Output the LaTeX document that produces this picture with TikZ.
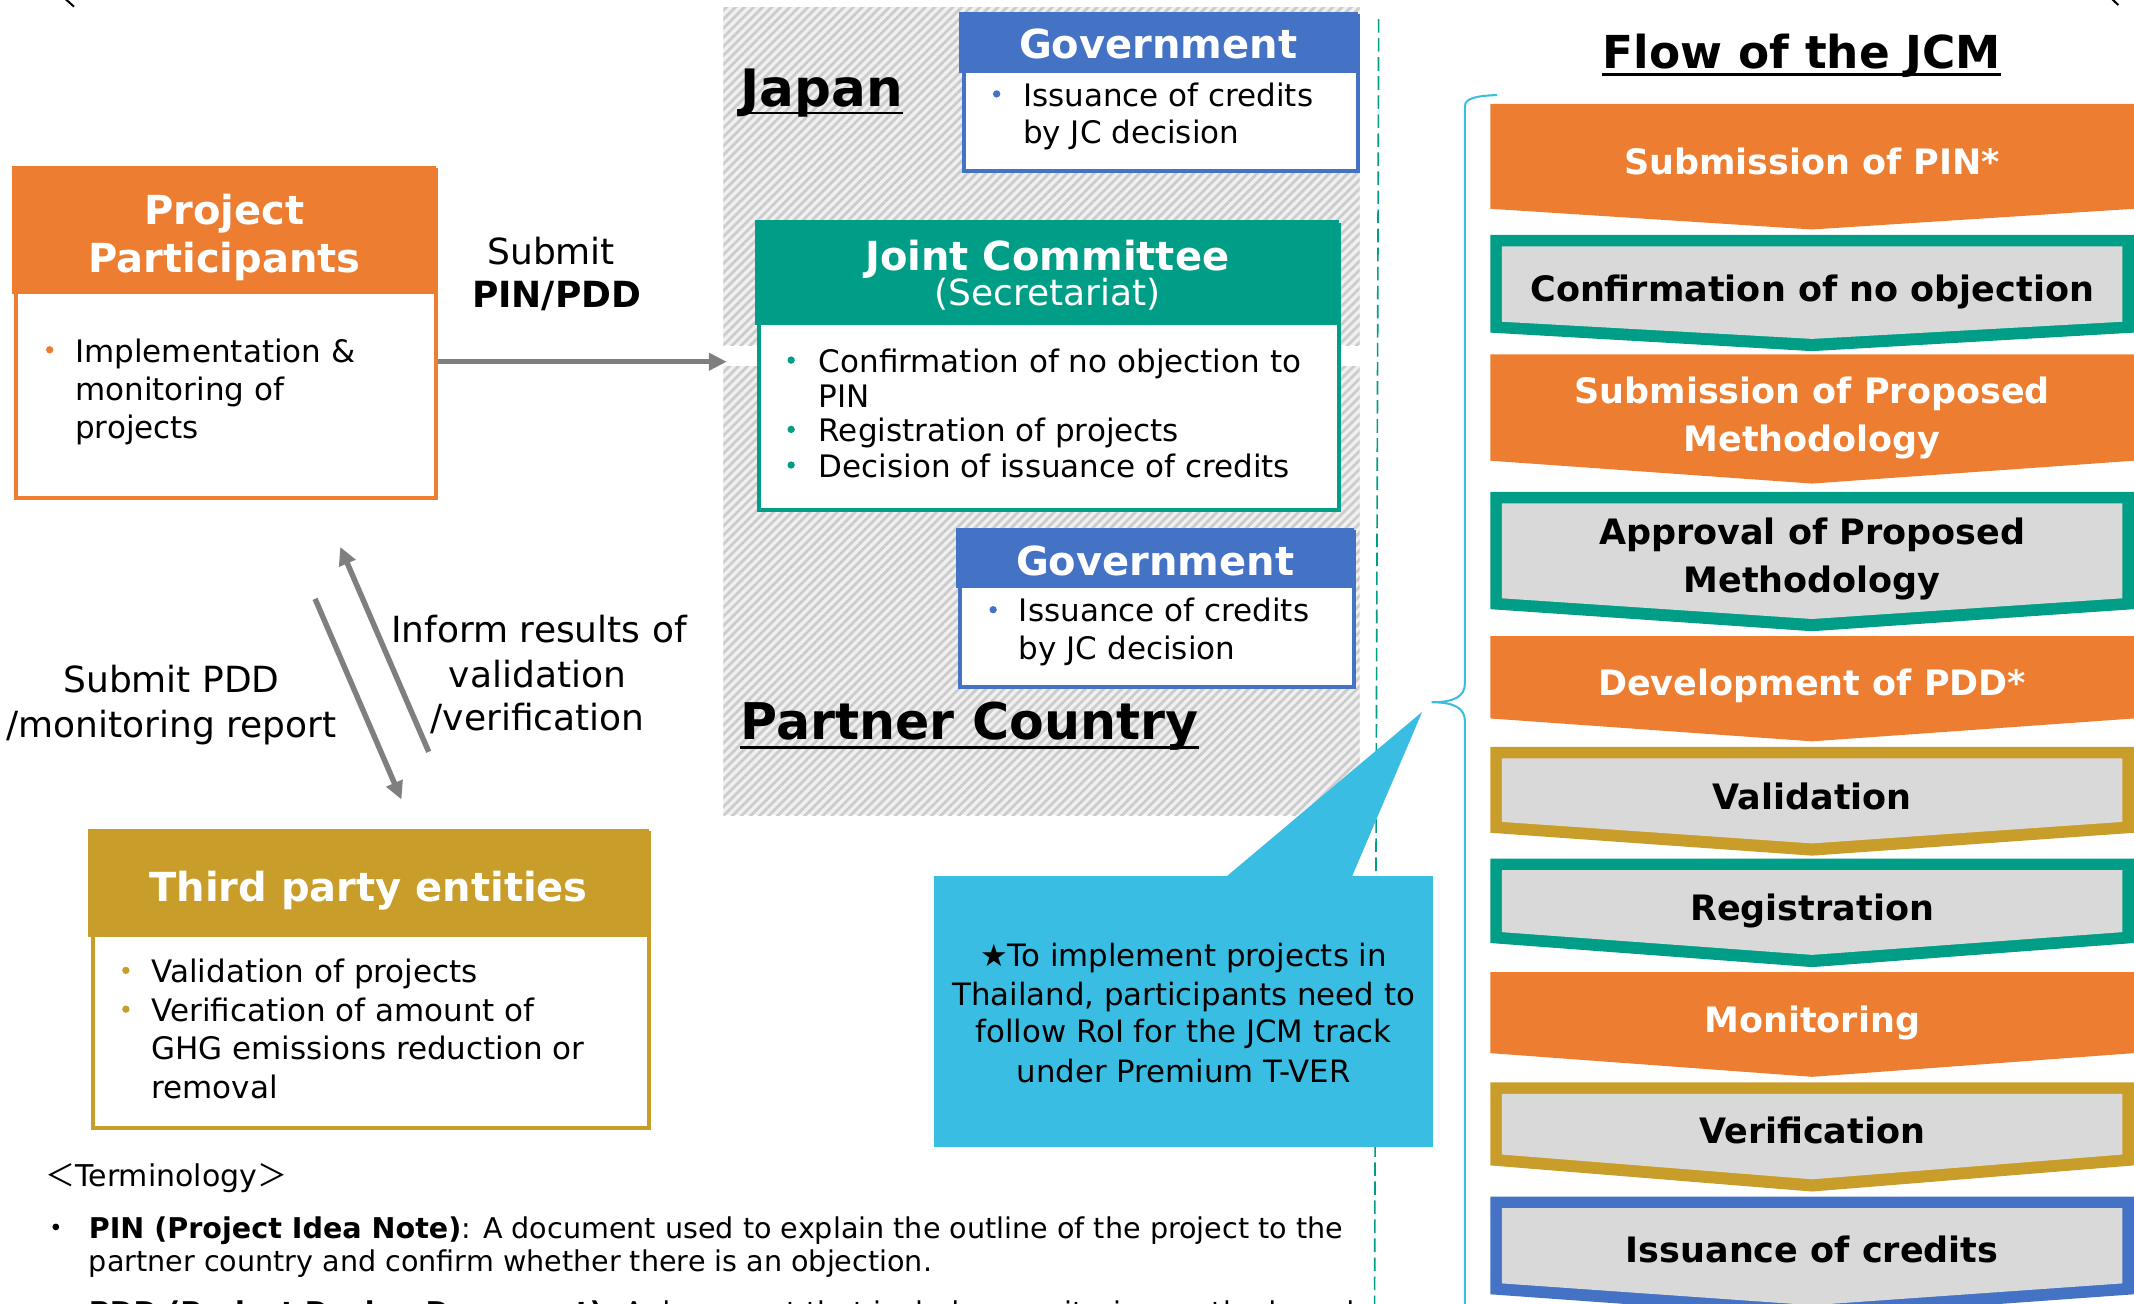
\documentclass[tikz,border=0pt]{standalone}
\usepackage{fontspec}
\setmainfont{DejaVu Sans}
\newfontfamily\cjk{Noto Sans CJK JP}
\usetikzlibrary{patterns.meta,arrows.meta,calc}
\definecolor{jorange}{HTML}{ED7D31}
\definecolor{jteal}{HTML}{009E87}
\definecolor{jblue}{HTML}{4472C4}
\definecolor{jgold}{HTML}{C99D2A}
\definecolor{jcyan}{HTML}{3ABDE2}
\definecolor{jgray}{HTML}{D9D9D9}
\definecolor{jarrow}{HTML}{7F7F7F}
\newdimen\px \px=0.6805pt
\newcommand\fs[1]{\fontsize{#1}{#1}\selectfont}
\begin{document}
\begin{tikzpicture}[x=0.6805pt,y=-0.6805pt,
  every node/.style={inner sep=0pt},
  lt/.style={anchor=base west, font=\fs{15.5pt}},
  hdr/.style={anchor=base, text=white, font=\fs{20pt}\bfseries},
  chevtxt/.style={anchor=base, font=\fs{17.5pt}\bfseries},
  lbl/.style={anchor=base, font=\fs{18pt}},
  big/.style={anchor=base west, font=\fs{25.8pt}\bfseries},
  calltxt/.style={anchor=base, font=\fs{15.4pt}},
  termtxt/.style={anchor=base west, font=\fs{14.3pt}},
  arr/.style={draw=jarrow, line width=4\px, -{Triangle[length=9pt,width=8.5pt]}},
  boxnode/.style={draw, line width=3\px, fill=white, rectangle, anchor=north west},
  hatchbg/.style={fill=black!6, postaction={pattern={Lines[angle=45,distance=3.2pt,line width=1.4pt]}, pattern color=black!20}},
  orangechev/.style={fill=jorange},
  graychev/.style={fill=jgray},
  bul/.style={fill=#1},
  uline/.style={line width=2\px},
]
\useasboundingbox (0,0) rectangle (1568,958);
\clip (0,0) rectangle (1568,958);

% corner marks
\draw[line width=1.5\px] (47.8,-1) -- (54.4,4.9);
\draw[line width=1.5\px] (1551.5,-1) -- (1556.5,3.7);

% hatched country regions
\fill[hatchbg] (531.5,5.5) rectangle (999,253.6);
\fill[hatchbg] (531.5,269) rectangle (999,599);

% dashed separator
\draw[jteal, line width=1.2\px, dash pattern=on 10\px off 4\px] (1013,14) -- (1010,958);

% Project participants
\node[boxnode, draw=jorange, minimum width=308.5\px, minimum height=241\px] (pp) at (10.5,123.5) {};
\fill[jorange] (9,122) rectangle (320.5,216);
\node[hdr] (pph1) at (165,165) {Project};
\node[hdr] (pph2) at (165,200) {Participants};
\fill[bul=jorange] (36.5,257) circle (2.7);
\node[lt] (pp1) at (55,266) {Implementation \&};
\node[lt] (pp2) at (55,294.2) {monitoring of};
\node[lt] (pp3) at (55,322.4) {projects};

% arrow to JC
\coordinate (jcin) at (534,265.8);
\draw[arr] (pp.east |- jcin) -- (jcin);
\node[lbl] (sub1) at (405,194) {Submit};
\node[lbl, font=\fs{18pt}\bfseries] (sub2) at (409,226) {PIN/PDD};

% Japan
\node[big] (japan) at (543.8,78) {Japan};
\draw[uline] ($(japan.base west)+(0,5)$) -- ($(japan.base east)+(0,5)$);

% Government (top)
\node[boxnode, draw=jblue, minimum width=289.5\px, minimum height=114.3\px] (gov1) at (706.5,10.1) {};
\fill[jblue] (705,8.6) rectangle (997.5,53.5);
\node[hdr] (gov1h) at (851,43) {Government};
\fill[bul=jblue] (732.3,69) circle (2.7);
\node[lt] (gov1a) at (751.4,78) {Issuance of credits};
\node[lt] (gov1b) at (751.4,105.5) {by JC decision};

% Joint Committee
\node[boxnode, draw=jteal, minimum width=426\px, minimum height=209.4\px] (jc) at (556.5,163.5) {};
\fill[jteal] (555,162) rectangle (984,239);
\node[hdr] (jch1) at (769.5,199) {Joint Committee};
\node[hdr, font=\fs{18pt}] (jch2) at (769.5,224.6) {(Secretariat)};
\fill[bul=jteal] (581.3,264.6) circle (2.7);
\fill[bul=jteal] (581.3,315.5) circle (2.7);
\fill[bul=jteal] (581.3,341.7) circle (2.7);
\node[lt] (jc1) at (601.3,273.6) {Confirmation of no objection to};
\node[lt] (jc2) at (601.3,299.5) {PIN};
\node[lt] (jc3) at (601.3,324.5) {Registration of projects};
\node[lt] (jc4) at (601.3,350.7) {Decision of issuance of credits};

% Government (bottom)
\node[boxnode, draw=jblue, minimum width=289.5\px, minimum height=114\px] (gov2) at (704,389.5) {};
\fill[jblue] (702.5,388) rectangle (995,432);
\node[hdr] (gov2h) at (848.75,423) {Government};
\fill[bul=jblue] (729.7,448) circle (2.7);
\node[lt] (gov2a) at (748.4,456.8) {Issuance of credits};
\node[lt] (gov2b) at (748.4,484.3) {by JC decision};

% Partner country
\node[big, font=\fs{25.3pt}\bfseries] (partner) at (543.8,543.3) {Partner Country};
\draw[uline] ($(partner.base west)+(0,6)$) -- ($(partner.base east)+(0,6)$);

% diagonal arrows
\coordinate (a1s) at (231.5,440);
\coordinate (a1e) at (295,587.5);
\coordinate (a2s) at (315,552.4);
\coordinate (a2e) at (250,401.8);
\draw[arr] (a1s) -- (a1e);
\draw[arr] (a2s) -- (a2e);
\node[lbl] (pddl1) at (126,509) {Submit PDD};
\node[lbl] (pddl2) at (126,541.7) {/monitoring report};
\node[lbl] (infl1) at (396,472) {Inform results of};
\node[lbl] (infl2) at (395,505) {validation};
\node[lbl] (infl3) at (395,537) {/verification};

% Third party entities
\node[boxnode, draw=jgold, minimum width=408.6\px, minimum height=216.5\px] (tpe) at (66.5,610.5) {};
\fill[jgold] (65,609) rectangle (476.6,688.5);
\node[hdr] (tpeh) at (270.8,662.5) {Third party entities};
\fill[bul=jgold] (92.5,713) circle (2.7);
\fill[bul=jgold] (92.5,741.5) circle (2.7);
\node[lt] (tpe1) at (111,722) {Validation of projects};
\node[lt] (tpe2) at (111,750.5) {Verification of amount of};
\node[lt] (tpe3) at (111,778.6) {GHG emissions reduction or};
\node[lt] (tpe4) at (111,807) {removal};

% Terminology
\node[termtxt, font=\fs{15pt}] (term) at (33,871.6) {{\cjk ＜}Terminology{\cjk ＞}};
\fill[bul=black] (41,901.5) circle (2.5);
\node[termtxt] (pin1) at (65,909.9) {\textbf{PIN (Project Idea Note)}: A document used to explain the outline of the project to the};
\node[termtxt] (pin2) at (65,934.3) {partner country and confirm whether there is an objection.};
\fill[bul=black] (41,963) circle (2.5);
\node[termtxt] (pdd1) at (65,971.5) {\textbf{PDD (Project Design Document)}: A document that includes monitoring methods and};

% callout
\fill[jcyan] (686.4,644) rectangle (1053,842.6);
\fill[jcyan] (900,645) -- (1045,523) -- (993,645) -- cycle;
\node[calltxt] (c1) at (869.7,709.8) {★To implement projects in};
\node[calltxt] (c2) at (869.7,738.8) {Thailand, participants need to};
\node[calltxt] (c3) at (869.7,766.3) {follow RoI for the JCM track};
\node[calltxt] (c4) at (869.7,795.4) {under Premium T-VER};

% brace
\draw[jcyan, line width=1.5\px] (1100,69.8) .. controls (1085,70.5) and (1076.4,72) .. (1076.4,78)
  -- (1076.4,502) .. controls (1076.4,512) and (1068,516) .. (1052,516)
  .. controls (1068,516) and (1076.4,520) .. (1076.4,530) -- (1076.4,960);

% Flow title
\node[anchor=base, font=\fs{22.7pt}\bfseries] (flow) at (1324,50.4) {Flow of the JCM};
\draw[uline] ($(flow.base west)+(0,4.6)$) -- ($(flow.base east)+(0,4.6)$);

% chevrons
\newcommand\chevo[3]{\fill[orangechev] (1095,#1) -- (1568,#1) -- (1568,#2) -- (1331.5,#3) -- (1095,#2) -- cycle;}
\newcommand\chevb[4]{\fill[fill=#4] (1095,#1) -- (1568,#1) -- (1568,#2) -- (1331.5,#3) -- (1095,#2) -- cycle;
  \fill[graychev] (1103.5,#1+8.5) -- (1559.5,#1+8.5) -- (1559.5,#2-8) -- (1331.5,#3-9) -- (1103.5,#2-8) -- cycle;}
\chevo{76.4}{153.4}{168.6}
\chevb{172.6}{244.4}{258}{jteal}
\chevo{260.3}{338.5}{355.3}
\chevb{361.4}{447.6}{463.8}{jteal}
\chevo{467.4}{527.9}{544.7}
\chevb{548.7}{611.9}{628.7}{jgold}
\chevb{630.8}{692.9}{710.6}{jteal}
\chevo{714.2}{773.8}{791.2}
\chevb{795.2}{856.3}{875.5}{jgold}
\chevb{879.2}{951}{968}{jblue}

\node[chevtxt, text=white] (f1) at (1331.5,128.3) {Submission of PIN*};
\node[chevtxt] (f2) at (1331.5,221.5) {Confirmation of no objection};
\node[chevtxt, text=white] (f3a) at (1331.5,296.3) {Submission of Proposed};
\node[chevtxt, text=white] (f3b) at (1331.5,331.5) {Methodology};
\node[chevtxt] (f4a) at (1331.5,400.2) {Approval of Proposed};
\node[chevtxt] (f4b) at (1331.5,435.3) {Methodology};
\node[chevtxt, text=white] (f5) at (1331.5,511) {Development of PDD*};
\node[chevtxt] (f6) at (1331.5,594.5) {Validation};
\node[chevtxt] (f7) at (1331.5,676) {Registration};
\node[chevtxt, text=white] (f8) at (1331.5,758.5) {Monitoring};
\node[chevtxt] (f9) at (1331.5,840.4) {Verification};
\node[chevtxt] (f10) at (1331.5,928) {Issuance of credits};
\end{tikzpicture}
\end{document}
